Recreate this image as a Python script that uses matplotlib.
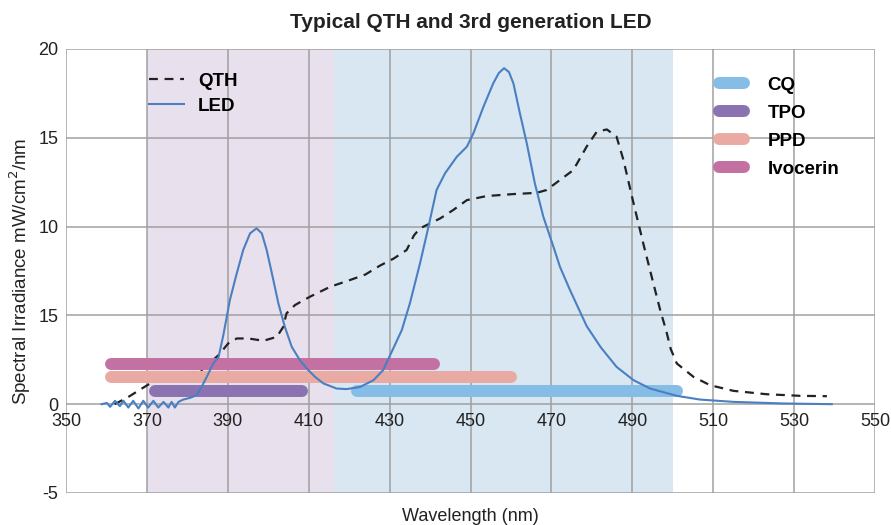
import matplotlib
matplotlib.use("Agg")
import matplotlib.pyplot as plt
from matplotlib.lines import Line2D

plt.rcParams["font.family"] = ["Liberation Sans", "DejaVu Sans"]

# QTH spectrum (dashed)
qth_x = [362, 365, 370.8, 377, 383.5, 387.7, 390.1, 392.2, 395.1, 398.8, 402.1, 403.7,
         404.5, 406.6, 408.3, 410.3, 415.3, 420.2, 424, 427.6, 431, 434.2, 436, 437.5,
         442.5, 445.7, 449.1, 454, 460.6, 466.4, 468.8, 472.1, 475.4, 478.7, 481.2,
         483.7, 486.1, 487.8, 490.3, 492.7, 495.2, 497, 498.3, 499.5, 501, 505.1,
         509.2, 515, 523.2, 531.5, 538.1]
qth_y = [0.0, 0.35, 1.17, 1.55, 1.92, 2.76, 3.42, 3.7, 3.7, 3.57, 3.79, 4.35,
         5.11, 5.58, 5.8, 6.05, 6.61, 6.99, 7.3, 7.8, 8.2, 8.68, 9.5, 9.9,
         10.46, 10.93, 11.49, 11.72, 11.83, 11.9, 12.06, 12.62, 13.18, 14.5, 15.34,
         15.47, 15.06, 13.75, 11.31, 9.05, 6.8, 5.2, 4.2, 3.1, 2.29, 1.54,
         1.07, 0.75, 0.56, 0.47, 0.45]

# LED spectrum (solid)
led_x = [358.8, 360.1, 360.9, 362.1, 363.3, 364.2, 365.4, 366.6, 367.9, 369.1, 370.3,
         371.6, 372.8, 374.1, 375.3, 376.1, 376.9, 377.8, 379, 380.7, 382.3, 383.5,
         384.8, 386.4, 387.7, 388.9, 390.5, 392.2, 393.8, 395.5, 397.1, 398.4, 399.6,
         400.9, 402.5, 404.1, 405.8, 407.8, 409.5, 411.5, 413.6, 416.9, 419.4, 422.7,
         426, 428.4, 430.7, 433, 435, 437.5, 439.6, 441.6, 443.7, 446.6, 449.1,
         450.7, 453.2, 455.6, 457, 458.3, 459.5, 460.6, 462.2, 463.9, 465.9, 468, 470.5,
         472.1, 474.6, 478.7, 482.2, 486.1, 490.3, 494.4, 501, 506.7, 515, 527.3,
         539.3]
led_y = [0.0, 0.07, -0.15, 0.19, -0.11, 0.19, -0.19, 0.19, -0.24, 0.19, -0.19,
         0.19, -0.19, 0.13, -0.19, 0.13, -0.19, 0.13, 0.26, 0.36, 0.51, 0.97,
         1.54, 2.29, 2.65, 3.9, 5.86, 7.36, 8.68, 9.62, 9.9, 9.62, 8.68,
         7.36, 5.67, 4.35, 3.23, 2.48, 2.01, 1.55, 1.17, 0.88, 0.85, 0.97,
         1.35, 1.92, 3.04, 4.17, 5.67, 7.92, 9.99, 12.06, 13.0, 13.93, 14.5,
         15.25, 16.75, 18.06, 18.65, 18.92, 18.7, 18.06, 16.38, 14.69, 12.43, 10.55, 8.86,
         7.74, 6.42, 4.4, 3.2, 2.1, 1.35, 0.88, 0.47, 0.26, 0.13, 0.04,
         0.0]

# photoinitiator absorption ranges
init_names = ["CQ", "TPO", "PPD", "Ivocerin"]
init_start = [422, 372, 361, 361]
init_end = [501, 408.4, 460, 441]
init_level = [0.76, 0.76, 1.51, 2.28]
init_colors = ["#85bde6", "#8b72b0", "#e8aaa3", "#c370a2"]

fig = plt.figure(figsize=(8.91, 5.25), dpi=100)
ax = fig.add_axes([0.0741, 0.061, 0.908, 0.8457])

ax.axvspan(370, 416.3, color="#e8e0ed", zorder=0, lw=0)
ax.axvspan(416.3, 500, color="#d8e7f2", zorder=0, lw=0)

ax.set_xlim(350, 550)
ax.set_ylim(-5, 20)
ax.set_xticks(range(350, 551, 20))
ax.set_yticks([-5, 0, 5, 10, 15, 20])
ax.set_yticklabels(["-5", "0", "15", "10", "15", "20"])
ax.grid(True, color="#a0a0a0", lw=1.1, zorder=1)
ax.set_axisbelow(True)
for s in ax.spines.values():
    s.set_visible(False)
ax.spines["bottom"].set_position(("data", 0))
ax.tick_params(length=0, labelsize=13, colors="#222222")
ax.tick_params(axis="y", pad=5.5)
ax.tick_params(axis="x", pad=6)

ax.plot(qth_x, qth_y, color="#222222", ls=(0, (4, 3)), lw=1.6, zorder=3)

for name, x0, x1, lvl, c in zip(init_names, init_start, init_end, init_level, init_colors):
    ax.plot([x0, x1], [lvl, lvl], color=c, lw=8.6, solid_capstyle="round", zorder=4)

ax.plot(led_x, led_y, color="#4a7fc1", lw=1.5, zorder=5, solid_joinstyle="round")

ax.set_title("Typical QTH and 3rd generation LED", fontsize=15, fontweight="bold",
             pad=15, color="#222222")
ax.set_xlabel("Wavelength (nm)", fontsize=13, color="#222222")
ax.xaxis.set_label_coords(0.5, -0.034)
ax.set_ylabel("Spectral Irradiance mW/cm$^2$/nm", fontsize=13.5, color="#222222")
ax.yaxis.set_label_coords(-0.0414, 0.5)

h1 = [Line2D([], [], color="#222222", ls=(0, (4, 3)), lw=1.6),
      Line2D([], [], color="#4a7fc1", lw=1.5)]
leg1 = ax.legend(h1, ["QTH", "LED"], loc="upper left", bbox_to_anchor=(0.0816, 0.985),
                 frameon=False, handlelength=1.87, handletextpad=0.75, labelspacing=0.42,
                 prop={"weight": "bold", "size": 13.5})
ax.add_artist(leg1)

h2 = [Line2D([], [], color=c, lw=8.6, solid_capstyle="round") for c in init_colors]
ax.legend(h2, init_names, loc="upper left", bbox_to_anchor=(0.786, 0.9755),
          frameon=False, handlelength=1.33, handletextpad=1.28, labelspacing=0.58,
          prop={"weight": "bold", "size": 13.5})

fig.savefig("out.png", dpi=100)
